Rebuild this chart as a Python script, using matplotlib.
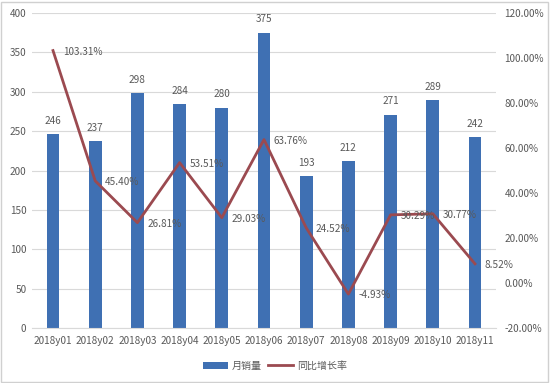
import matplotlib.pyplot as plt
from matplotlib.patches import Rectangle

plt.rcParams['font.family'] = ['Noto Sans CJK SC', 'DejaVu Sans']
plt.rcParams['axes.unicode_minus'] = False

months = ['2018y01', '2018y02', '2018y03', '2018y04', '2018y05', '2018y06',
          '2018y07', '2018y08', '2018y09', '2018y10', '2018y11']
sales = [246, 237, 298, 284, 280, 375, 193, 212, 271, 289, 242]
growth = [103.31, 45.40, 26.81, 53.51, 29.03, 63.76, 24.52, -4.93, 30.29, 30.77, 8.52]

bar_color = '#3F70B3'
line_color = '#9B4A50'
text_color = '#595959'
fs = 7.2

fig = plt.figure(figsize=(5.5, 3.83), dpi=100)
ax = fig.add_axes([0.058, 0.1436, 0.844, 0.8224])
x = range(len(months))

bars = ax.bar(x, sales, width=0.3, color=bar_color, label='月销量', zorder=2)
for i, v in enumerate(sales):
    ax.annotate(str(v), (i, v), xytext=(0, 6), textcoords='offset points',
                ha='center', va='bottom', fontsize=fs, color=text_color)

ax.set_ylim(0, 400)
ax.set_xlim(-0.5, len(months) - 0.5)
ax.set_yticks(range(0, 401, 50))
ax.set_xticks(list(x))
ax.set_xticklabels(months)
ax.grid(axis='y', color='#D9D9D9', linewidth=0.8, zorder=0)
for s in ['top', 'right', 'left']:
    ax.spines[s].set_visible(False)
ax.spines['bottom'].set_color('#D9D9D9')
ax.tick_params(axis='both', length=0, labelsize=fs, colors=text_color)
ax.tick_params(axis='x', pad=6)
ax.tick_params(axis='y', pad=4)

ax2 = ax.twinx()
line, = ax2.plot(x, growth, color=line_color, linewidth=2, label='同比增长率', zorder=3)
for i, v in enumerate(growth):
    ax2.annotate(f'{v:.2f}%', (i, v), xytext=(7, -1), textcoords='offset points',
                 ha='left', va='center', fontsize=fs, color=text_color)
ax2.set_ylim(-20, 120)
ax2.set_yticks(range(-20, 121, 20))
ax2.set_yticklabels([f'{t:.2f}%' for t in range(-20, 121, 20)])
for s in ax2.spines.values():
    s.set_visible(False)
ax2.tick_params(axis='y', length=0, labelsize=fs, colors=text_color, pad=6)

fig.legend(handles=[bars, line], loc='center', bbox_to_anchor=(0.5, 0.045),
           ncol=2, frameon=False, fontsize=fs, labelcolor=text_color,
           handlelength=2.5, columnspacing=0.6, handletextpad=0.4)

fig.patches.append(Rectangle((0.002, 0.003), 0.995, 0.993, transform=fig.transFigure,
                             fill=False, edgecolor='#D0D0D0', linewidth=1))

fig.savefig('out.png', dpi=100)
